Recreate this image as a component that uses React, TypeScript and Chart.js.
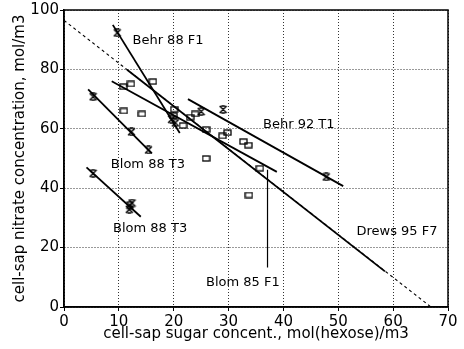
import { useEffect, useRef } from "react";
import { Chart, registerables } from "chart.js";

Chart.register(...registerables);

// ---- data ----
const squareX = [10.8, 12.2, 16.2, 10.9, 14.2, 20.1, 19.9, 21.7, 23.0, 23.9, 25.9, 28.9, 29.8, 32.7, 33.6, 25.9, 35.7, 33.7];
const squareY = [74.2, 75.1, 75.9, 66.0, 65.0, 66.6, 64.5, 61.1, 63.9, 65.0, 59.8, 57.6, 58.7, 55.7, 54.5, 50.0, 46.7, 37.7];

const crossX = [9.7, 19.6, 20.3, 25.0, 29.0, 47.8, 5.3, 12.3, 15.4, 5.3, 12.0, 11.9, 12.4];
const crossY = [92.3, 63.2, 62.0, 65.8, 66.5, 43.8, 70.8, 59.0, 52.9, 45.0, 34.3, 32.9, 35.0];

const behr88F1X = [8.9, 21.1];
const behr88F1Y = [95.0, 58.6];
const drews95F7X = [11.5, 58.5];
const drews95F7Y = [79.9, 12.0];
const drewsExtX = [0, 66.9];
const drewsExtY = [96.5, 0];
const blom85F1X = [8.7, 38.8];
const blom85F1Y = [76.0, 45.5];
const blom85PointerX = [37.1, 37.1];
const blom85PointerY = [46.2, 13.3];
const behr92T1X = [22.6, 50.9];
const behr92T1Y = [70.0, 40.7];
const blom88T3aX = [4.4, 16.0];
const blom88T3aY = [73.3, 51.7];
const blom88T3bX = [4.1, 14.0];
const blom88T3bY = [47.0, 30.4];

const labelTexts = ["Behr 88 F1", "Behr 92 T1", "Blom 88 T3", "Blom 88 T3", "Blom 85 F1", "Drews 95 F7"];
const labelX = [18.96, 42.8, 15.3, 15.7, 32.6, 60.7];
const labelY = [89.6, 61.3, 48.1, 26.3, 8.1, 25.3];

const xTitle = "cell-sap sugar concent., mol(hexose)/m3";
const yTitle = "cell-sap nitrate concentration, mol/m3";

const zip = (xs: number[], ys: number[]) => xs.map((x, i) => ({ x, y: ys[i] }));

function makeSquare() {
  const c = document.createElement("canvas");
  c.width = 9;
  c.height = 7;
  const g = c.getContext("2d")!;
  g.strokeStyle = "#000";
  g.lineWidth = 1.3;
  g.strokeRect(1, 1, 7, 5);
  return c;
}

function makeCross() {
  const c = document.createElement("canvas");
  c.width = 9;
  c.height = 9;
  const g = c.getContext("2d")!;
  g.strokeStyle = "#000";
  g.lineWidth = 1.4;
  g.beginPath();
  g.moveTo(1, 1);
  g.lineTo(8, 8);
  g.moveTo(8, 1);
  g.lineTo(1, 8);
  g.moveTo(2.5, 1);
  g.lineTo(6.5, 1);
  g.moveTo(2.5, 8);
  g.lineTo(6.5, 8);
  g.stroke();
  return c;
}

const lineDs = (xs: number[], ys: number[], extra: any = {}) => ({
  data: zip(xs, ys),
  showLine: true,
  borderColor: "#000",
  borderWidth: 1.8,
  pointRadius: 0,
  fill: false,
  ...extra,
});

export default function App() {
  const ref = useRef<HTMLCanvasElement>(null);

  useEffect(() => {
    if (!ref.current) return;
    Chart.defaults.font.family = '"DejaVu Sans"';
    Chart.defaults.color = "#000";

    const frame = {
      id: "frame",
      afterDatasetsDraw(chart: any) {
        const { ctx, chartArea: a, scales } = chart;
        ctx.save();
        ctx.strokeStyle = "#000";
        ctx.lineWidth = 1.5;
        ctx.strokeRect(a.left, a.top, a.right - a.left, a.bottom - a.top);
        ctx.fillStyle = "#000";
        ctx.font = '13px "DejaVu Sans"';
        ctx.textAlign = "center";
        ctx.textBaseline = "middle";
        labelTexts.forEach((t, i) => {
          ctx.fillText(t, scales.x.getPixelForValue(labelX[i]), scales.y.getPixelForValue(labelY[i]));
        });
        ctx.restore();
      },
    };

    const chart = new Chart(ref.current, {
      type: "scatter",
      data: {
        datasets: [
          lineDs(drewsExtX, drewsExtY, { borderWidth: 1.1, borderDash: [3, 3] }),
          lineDs(behr88F1X, behr88F1Y),
          lineDs(drews95F7X, drews95F7Y),
          lineDs(blom85F1X, blom85F1Y),
          lineDs(blom85PointerX, blom85PointerY, { borderWidth: 1.2 }),
          lineDs(behr92T1X, behr92T1Y),
          lineDs(blom88T3aX, blom88T3aY),
          lineDs(blom88T3bX, blom88T3bY),
          {
            data: zip(squareX, squareY),
            pointStyle: makeSquare(),
            pointRadius: 4,
            showLine: false,
          },
          {
            data: zip(crossX, crossY),
            pointStyle: makeCross(),
            pointRadius: 4,
            showLine: false,
          },
        ] as any,
      },
      options: {
        animation: false,
        responsive: true,
        maintainAspectRatio: false,
        layout: { padding: { top: 10, right: 16, left: 0, bottom: 0 } },
        plugins: { legend: { display: false }, tooltip: { enabled: false } },
        scales: {
          x: {
            type: "linear",
            min: 0,
            max: 70,
            ticks: { stepSize: 10, color: "#000", font: { size: 15 }, padding: 2, maxRotation: 0 },
            grid: { color: "#333", tickColor: "#000", tickLength: 4, lineWidth: 1 } as any,
            border: { display: true, color: "#000", width: 1.5, dash: [1, 2] } as any,
            title: { display: true, text: xTitle, color: "#000", font: { size: 15 }, padding: { top: 0, bottom: 6 } },
            afterFit: (s: any) => {
              s.height = 42;
            },
          },
          y: {
            type: "linear",
            min: 0,
            max: 100,
            ticks: { stepSize: 20, color: "#000", font: { size: 15 }, padding: 1 },
            grid: { color: "#333", tickColor: "#000", tickLength: 4, lineWidth: 1 } as any,
            border: { display: true, color: "#000", width: 1.5, dash: [1, 2] } as any,
            title: { display: true, text: yTitle, color: "#000", font: { size: 15 }, padding: { top: 11, bottom: 0 } },
            afterFit: (s: any) => {
              s.width = 64;
            },
          },
        },
      },
      plugins: [frame],
    });
    return () => chart.destroy();
  }, []);

  return (
    <div style={{ position: "fixed", left: 0, top: 0, width: 464, height: 349, background: "#fff" }}>
      <canvas ref={ref} />
    </div>
  );
}
